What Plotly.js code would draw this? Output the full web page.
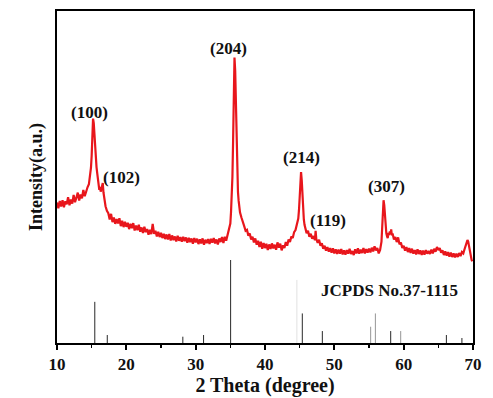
<!DOCTYPE html>
<html>
<head>
<meta charset="utf-8">
<script src="https://cdn.plot.ly/plotly-3.0.1.min.js"></script>
<style>html,body{margin:0;padding:0;background:#fff;}#chart{width:493px;height:398px;}</style>
</head>
<body>
<div id="chart"></div>
<script>
// XRD pattern (2θ in degrees, intensity in arbitrary units)
const twoTheta = [
10.0,10.2,10.4,10.6,10.8,11.0,11.2,11.4,11.6,11.8,12.0,12.2,12.4,12.6,12.8,13.0,13.2,13.4,13.6,13.8,14.0,14.2,14.4,14.6,
14.8,14.9,15.0,15.1,15.2,15.3,15.4,15.5,15.6,15.7,15.8,15.9,16.0,16.1,16.2,16.3,16.4,16.5,16.6,16.7,16.8,16.9,17.0,17.2,17.4,
17.6,17.8,18.0,18.2,18.4,18.6,18.8,19.0,19.2,19.4,19.6,19.8,20.0,20.2,20.4,20.6,20.8,21.0,21.2,21.4,21.6,21.8,
22.0,22.2,22.4,22.6,22.8,23.0,23.2,23.4,23.6,23.8,24.0,24.2,24.4,24.6,24.8,25.0,25.2,25.4,25.6,25.8,
26.0,26.2,26.4,26.6,26.8,27.0,27.2,27.4,27.6,27.8,28.0,28.2,28.4,28.6,28.8,29.0,29.2,29.4,29.6,29.8,
30.0,30.2,30.4,30.6,30.8,31.0,31.2,31.4,31.6,31.8,32.0,32.2,32.4,32.6,32.8,33.0,33.2,33.4,33.6,33.8,
34.0,34.2,34.4,34.6,34.8,35.0,35.1,35.2,35.3,35.4,35.5,35.6,35.7,35.8,35.9,36.0,36.1,36.2,36.3,36.4,36.6,36.8,
37.0,37.2,37.4,37.6,37.8,38.0,38.2,38.4,38.6,38.8,39.0,39.2,39.4,39.6,39.8,
40.0,40.2,40.4,40.6,40.8,41.0,41.2,41.4,41.6,41.8,42.0,42.2,42.4,42.6,42.8,43.0,43.2,43.4,43.6,43.8,
44.0,44.2,44.4,44.6,44.8,44.9,45.0,45.1,45.2,45.3,45.4,45.5,45.6,45.7,45.8,46.0,46.2,46.4,46.6,46.8,
47.0,47.2,47.3,47.4,47.6,47.8,48.0,48.2,48.4,48.6,48.8,49.0,49.2,49.4,49.6,49.8,
50.0,50.2,50.4,50.6,50.8,51.0,51.2,51.4,51.6,51.8,52.0,52.2,52.4,52.6,52.8,53.0,53.2,53.4,53.6,53.8,
54.0,54.2,54.4,54.6,54.8,55.0,55.2,55.4,55.6,55.8,56.0,56.2,56.4,56.6,56.8,56.9,57.0,57.1,57.2,57.3,57.4,57.5,57.6,57.7,57.8,57.9,
58.0,58.1,58.2,58.3,58.4,58.6,58.8,59.0,59.2,59.4,59.6,59.8,
60.0,60.2,60.4,60.6,60.8,61.0,61.2,61.4,61.6,61.8,62.0,62.2,62.4,62.6,62.8,63.0,63.2,63.4,63.6,63.8,
64.0,64.2,64.4,64.6,64.8,65.0,65.2,65.4,65.6,65.8,66.0,66.2,66.4,66.6,66.8,67.0,67.2,67.4,67.6,67.8,
68.0,68.2,68.4,68.6,68.8,69.0,69.1,69.2,69.3,69.4,69.5,69.6,69.7,69.8,69.9
];
const intensity = [
42.3,40.6,42.8,41.1,43.0,40.9,42.7,41.8,43.9,41.5,43.2,42.0,44.6,42.4,43.8,45.3,42.9,44.7,43.6,46.1,44.2,45.8,46.9,47.8,
50.5,52.8,56.4,61.5,67.6,66.2,62.0,59.3,57.1,53.0,51.2,48.6,47.9,46.1,47.0,45.6,46.4,47.3,48.2,45.4,43.6,42.8,41.2,39.8,39.1,
37.2,38.9,36.4,37.8,35.9,37.3,36.0,37.6,35.2,36.8,34.9,36.5,35.0,36.2,34.3,35.9,34.6,36.1,33.9,35.4,34.0,35.6,
33.5,34.8,33.1,35.0,33.4,34.3,32.6,34.1,32.8,35.9,32.9,33.8,32.1,33.5,31.9,33.2,31.6,32.9,31.3,32.7,
31.2,32.8,30.9,32.4,31.0,32.1,30.6,32.3,30.8,31.9,30.5,32.0,30.7,31.8,30.2,31.7,30.4,31.5,29.9,31.6,
30.3,31.4,29.8,31.2,30.0,31.5,29.6,31.1,30.1,31.3,29.8,31.4,30.2,31.6,30.0,31.2,29.7,31.5,30.4,31.9,
30.1,32.0,30.8,32.6,33.9,36.0,39.5,43.0,50.0,61.0,76.0,86.0,82.0,70.0,58.0,50.0,45.5,42.8,41.0,39.3,37.8,36.1,
35.2,33.8,34.1,32.3,33.0,31.2,32.0,30.3,31.5,29.6,30.8,28.9,30.5,28.4,30.1,
28.6,29.9,28.0,29.7,28.3,30.0,28.5,29.6,28.1,30.3,28.7,29.9,27.9,29.4,28.6,30.4,29.3,31.2,30.4,32.1,
31.6,33.4,34.0,35.6,37.5,40.0,43.5,48.0,51.5,49.0,44.0,40.0,37.2,35.6,34.8,33.1,33.8,32.0,32.9,31.4,
32.2,31.0,33.8,31.3,30.2,31.1,29.3,30.0,28.4,29.3,27.8,28.9,27.5,28.6,27.2,28.5,
27.0,28.2,26.8,28.1,26.9,28.3,26.7,27.9,26.6,28.0,26.9,28.4,26.8,27.7,26.5,28.2,27.0,28.5,26.9,28.1,
27.1,28.6,27.0,28.3,27.2,28.4,27.3,28.7,27.6,29.1,27.9,28.6,27.0,28.0,30.5,34.0,39.0,43.0,41.5,37.5,34.5,33.0,32.2,31.6,33.2,32.5,
33.6,32.8,34.2,32.4,33.0,31.2,31.9,30.4,31.8,29.7,30.3,28.6,
29.3,27.8,28.9,27.4,28.6,27.1,28.4,26.9,28.0,26.7,28.2,26.8,27.9,26.5,27.8,26.6,28.0,26.9,27.7,26.8,
28.1,27.0,28.4,27.5,28.9,28.0,28.6,27.2,27.9,26.5,27.6,26.3,27.4,26.0,27.2,25.9,27.0,25.8,26.9,25.9,
27.1,26.2,27.4,27.0,28.4,29.5,30.6,31.0,30.6,29.2,28.0,26.8,25.9,25.0,24.6
];

// JCPDS No.37-1115 reference lines
const refPos = [15.45, 17.25, 28.15, 31.14, 35.04, 45.38, 48.27, 58.13, 66.16, 68.4];
const refHeight = [12.4, 2.4, 1.9, 2.4, 25.0, 8.9, 3.6, 3.6, 2.4, 1.5];
const refPosLight = [55.24, 55.92, 59.57];
const refHeightLight = [4.9, 8.9, 3.6];
const refPosFaint = [44.6];
const refHeightFaint = [19.0];

// Miller index labels
const hklLabels = ['(100)', '(102)', '(204)', '(214)', '(119)', '(307)'];

function sticks(pos, h) {
  const x = [], y = [];
  pos.forEach((p, i) => { x.push(p, p, null); y.push(0, h[i], null); });
  return {x, y};
}
const s1 = sticks(refPos, refHeight);
const s2 = sticks(refPosLight, refHeightLight);
const s3 = sticks(refPosFaint, refHeightFaint);

const serif = 'Liberation Serif, Times New Roman, serif';

const traces = [
  {x: s3.x, y: s3.y, mode: 'lines', line: {color: 'rgb(225,225,225)', width: 1}, hoverinfo: 'skip', showlegend: false},
  {x: s2.x, y: s2.y, mode: 'lines', line: {color: 'rgb(150,150,150)', width: 1}, hoverinfo: 'skip', showlegend: false},
  {x: s1.x, y: s1.y, mode: 'lines', line: {color: 'rgb(40,40,40)', width: 1}, hoverinfo: 'skip', showlegend: false},
  {x: twoTheta, y: intensity, mode: 'lines', line: {color: 'rgb(232,22,28)', width: 2.2}, showlegend: false}
];

const labelPos = [[14.69, 69.3], [19.31, 50.0], [34.75, 88.6], [45.24, 56.0], [49.03, 37.0], [57.5, 47.0]];
const annotations = hklLabels.map((t, i) => ({
  x: labelPos[i][0], y: labelPos[i][1], xref: 'x', yref: 'y', text: t, showarrow: false,
  font: {family: serif, size: 17, color: '#111', weight: 'bold'}
}));
annotations.push({
  x: 57.98, y: 15.7, xref: 'x', yref: 'y', text: 'JCPDS No.37-1115', showarrow: false,
  font: {family: serif, size: 17, color: '#111', weight: 'bold'}
});

const layout = {
  width: 493, height: 398,
  margin: {l: 57, r: 20, t: 11, b: 55, pad: 0},
  paper_bgcolor: '#fff', plot_bgcolor: '#fff',
  font: {family: serif, color: '#111'},
  xaxis: {
    range: [10, 70], dtick: 10, tick0: 10,
    showline: true, mirror: true, linecolor: '#000', linewidth: 2,
    ticks: 'outside', ticklen: 5, tickwidth: 2, tickcolor: '#000',
    minor: {dtick: 5, ticks: 'outside', ticklen: 3, tickwidth: 1.5, tickcolor: '#000'},
    showgrid: false, zeroline: false,
    tickfont: {family: serif, size: 17, weight: 'bold', color: '#111'},
    title: {text: '2 Theta (degree)', font: {family: serif, size: 20, weight: 'bold', color: '#111'}, standoff: 5}
  },
  yaxis: {
    range: [0, 100],
    showline: true, mirror: true, linecolor: '#000', linewidth: 2,
    ticks: '', showticklabels: false, showgrid: false, zeroline: false,
    title: {text: 'Intensity(a.u.)', font: {family: serif, size: 18, weight: 'bold', color: '#111'}, standoff: 8}
  },
  annotations: annotations
};

Plotly.newPlot('chart', traces, layout, {staticPlot: true, displayModeBar: false});
</script>
</body>
</html>
